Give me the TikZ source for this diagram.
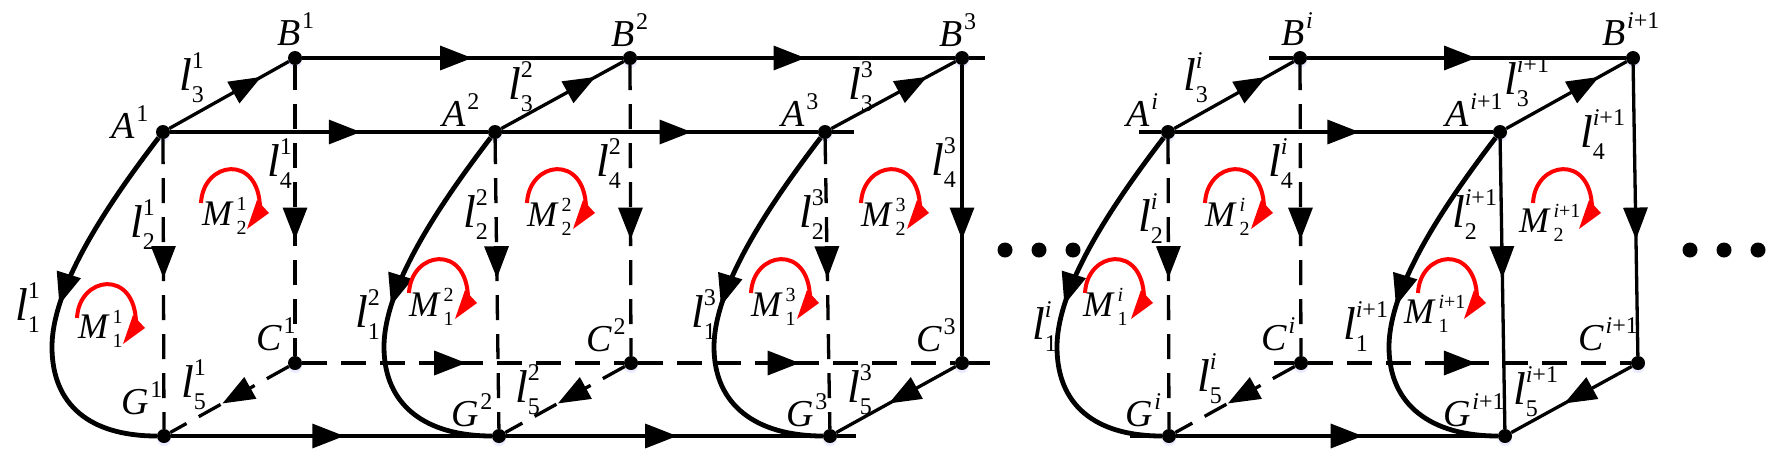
\documentclass[tikz,border=0pt]{standalone}
\usepackage{fontspec}
\setmainfont{Liberation Serif}
\usetikzlibrary{arrows.meta,decorations.markings,shadows}
\newcommand\CapSup[2]{{\fontsize{38}{38}\selectfont\textit{#1}\kern2pt\raisebox{17pt}{\fontsize{24}{24}\selectfont #2}}}
\newcommand\LSS[2]{{\fontsize{46}{46}\selectfont\textit{l}\rlap{\raisebox{22pt}{\fontsize{24}{24}\selectfont #2}}\raisebox{-12pt}{\fontsize{24}{24}\selectfont #1}}}
\newcommand\MSS[2]{{\fontsize{36}{36}\selectfont\textit{M}\kern3pt\rlap{\raisebox{15pt}{\fontsize{20}{20}\selectfont #2}}\raisebox{-9pt}{\fontsize{20}{20}\selectfont #1}}}
\newcommand\redloop[1]{\begin{scope}[shift={(#1)}]
  \draw[redline] (0,0) .. controls (2,-42) and (58,-50) .. (59,5);
  \fill[red] (68,10) -- (46,26) -- (56,-3) -- cycle;
\end{scope}}
\tikzset{
  x=1pt,y=-1pt,
  dotn/.style={circle,fill=black,inner sep=0,minimum size=14pt,
    general shadow={shadow xshift=0pt,shadow yshift=-3pt,fill=blue!25,opacity=.3}},
  edgeln/.style={line width=3.3pt,black},
  dashln/.style={line width=3.3pt,black,dash pattern=on 25pt off 14pt},
  curveedge/.style={line width=4.8pt,black},
  arw/.style={postaction={decorate,decoration={markings,mark=at position #1 with {\arrow{Triangle[length=32pt,width=24pt]}}}}},
  redline/.style={red,line width=4pt},
  txt/.style={anchor=base west,inner sep=0pt,outer sep=0pt},
  ell/.style={circle,fill=black,inner sep=0,minimum size=15pt},
}
\begin{document}
\begin{tikzpicture}
\useasboundingbox (0,0) rectangle (1791,459);
\fill[white] (0,0) rectangle (1791,459);
% points
\foreach \n/\ax/\bx/\cx/\gx in {1/163/295/295/164,2/495/630/631/499,3/825/962/962/830,i/1168/1300/1301/1169,j/1500/1633/1638/1505}{
  \node[dotn] (A\n) at (\ax,132) {};
  \node[dotn] (B\n) at (\bx,58) {};
  \node[dotn] (C\n) at (\cx,363) {};
  \node[dotn] (G\n) at (\gx,436) {};
}
\coordinate (Bend) at (985,58);
\coordinate (Aend) at (854,132);
\coordinate (Cend) at (990,363);
\coordinate (Gend) at (856,436);
\coordinate (Bst) at (1269,58);
\coordinate (Ast) at (1139,132);
\coordinate (Cst) at (1274,363);
\coordinate (Gst) at (1130,436);
% horizontals
\draw[edgeln,arw=.53] (B1) -- (B2);
\draw[edgeln,arw=.53] (B2) -- (B3);
\draw[edgeln] (B3) -- (Bend);
\draw[edgeln,arw=.6] (A1) -- (A2);
\draw[edgeln,arw=.6] (A2) -- (A3);
\draw[edgeln] (A3) -- (Aend);
\draw[dashln,arw=.51] (C1) -- (C2);
\draw[dashln,arw=.51] (C2) -- (C3);
\draw[dashln] (C3) -- (Cend);
\draw[edgeln,arw=.54] (G1) -- (G2);
\draw[edgeln,arw=.54] (G2) -- (G3);
\draw[edgeln] (G3) -- (Gend);
\draw[edgeln] (Bst) -- (Bi);
\draw[edgeln,arw=.53] (Bi) -- (Bj);
\draw[edgeln] (Ast) -- (Ai);
\draw[edgeln,arw=.58] (Ai) -- (Aj);
\draw[dashln] (Cst) -- (Ci);
\draw[dashln,arw=.52] (Ci) -- (Cj);
\draw[edgeln] (Gst) -- (Gi);
\draw[edgeln,arw=.58] (Gi) -- (Gj);
% diagonals and verticals
\foreach \n in {1,2,3,i,j}{
  \draw[edgeln,arw=.77] (A\n) -- (B\n);
  \draw[curveedge,arw=.495] (A\n) .. controls +(-52,68) and +(0,-62) .. ++(-111,215) .. controls +(0,58) and +(-74,0) .. (G\n);
}
\foreach \n in {1,2,3,i}{\draw[dashln,arw=.48] (A\n) -- (G\n);}
\draw[edgeln,arw=.48] (Aj) -- (Gj);
\foreach \n in {1,2,i}{
  \draw[dashln,arw=.6] (B\n) -- (C\n);
  \draw[dashln,arw=.56] (C\n) -- (G\n);
}
\foreach \n in {3,j}{
  \draw[edgeln,arw=.6] (B\n) -- (C\n);
  \draw[edgeln,arw=.56] (C\n) -- (G\n);
}
% ellipses
\foreach \x/\k in {1005/a,1039/b,1073/c,1690/d,1724/e,1758/f}{\node[ell] (e\k) at (\x,250) {};}
% loops
\foreach \p in {{201,203},{77,318},{527,203},{409,293},{861,203},{751,293},{1205,203},{1085,293},{1533,203},{1418,293}}{\redloop{\p}}
% unit 1
\node[txt] (tB1) at (277,45) {\CapSup{B}{1}};
\node[txt] (tA1) at (111,138) {\CapSup{A}{1}};
\node[txt] (tC1) at (256,350) {\CapSup{C}{1}};
\node[txt] (tG1) at (121,414) {\CapSup{G}{1}};
\node[txt] (tl31) at (179,90) {\LSS{3}{1}};
\node[txt] (tl41) at (267,176) {\LSS{4}{1}};
\node[txt] (tl21) at (130,237) {\LSS{2}{1}};
\node[txt] (tl11) at (15,320) {\LSS{1}{1}};
\node[txt] (tl51) at (181,397) {\LSS{5}{1}};
\node[txt] (tM21) at (202,225) {\MSS{2}{1}};
\node[txt] (tM11) at (78,338) {\MSS{1}{1}};
% unit 2
\node[txt] (tB2) at (611,46) {\CapSup{B}{2}};
\node[txt] (tA2) at (442,126) {\CapSup{A}{2}};
\node[txt] (tC2) at (586,351) {\CapSup{C}{2}};
\node[txt] (tG2) at (451,426) {\CapSup{G}{2}};
\node[txt] (tl32) at (508,99) {\LSS{3}{2}};
\node[txt] (tl42) at (596,176) {\LSS{4}{2}};
\node[txt] (tl22) at (463,227) {\LSS{2}{2}};
\node[txt] (tl12) at (355,327) {\LSS{1}{2}};
\node[txt] (tl52) at (515,402) {\LSS{5}{2}};
\node[txt] (tM22) at (527,226) {\MSS{2}{2}};
\node[txt] (tM12) at (409,316) {\MSS{1}{2}};
% unit 3
\node[txt] (tB3) at (939,46) {\CapSup{B}{3}};
\node[txt] (tA3) at (781,126) {\CapSup{A}{3}};
\node[txt] (tC3) at (916,351) {\CapSup{C}{3}};
\node[txt] (tG3) at (786,426) {\CapSup{G}{3}};
\node[txt] (tl33) at (848,99) {\LSS{3}{3}};
\node[txt] (tl43) at (931,175) {\LSS{4}{3}};
\node[txt] (tl23) at (799,227) {\LSS{2}{3}};
\node[txt] (tl13) at (691,327) {\LSS{1}{3}};
\node[txt] (tl53) at (847,402) {\LSS{5}{3}};
\node[txt] (tM23) at (861,226) {\MSS{2}{3}};
\node[txt] (tM13) at (751,316) {\MSS{1}{3}};
% unit i
\node[txt] (tBi) at (1281,45) {\CapSup{B}{\textit{i}}};
\node[txt] (tAi) at (1126,126) {\CapSup{A}{\textit{i}}};
\node[txt] (tCi) at (1261,350) {\CapSup{C}{\textit{i}}};
\node[txt] (tGi) at (1125,426) {\CapSup{G}{\textit{i}}};
\node[txt] (tl3i) at (1183,90) {\LSS{3}{\textit{i}}};
\node[txt] (tl4i) at (1268,176) {\LSS{4}{\textit{i}}};
\node[txt] (tl2i) at (1138,231) {\LSS{2}{\textit{i}}};
\node[txt] (tl1i) at (1032,339) {\LSS{1}{\textit{i}}};
\node[txt] (tl5i) at (1197,391) {\LSS{5}{\textit{i}}};
\node[txt] (tM2i) at (1205,226) {\MSS{2}{\textit{i}}};
\node[txt] (tM1i) at (1083,316) {\MSS{1}{\textit{i}}};
% unit i+1
\node[txt] (tBj) at (1602,45) {\CapSup{B}{\textit{i}+1}};
\node[txt] (tAj) at (1445,126) {\CapSup{A}{\textit{i}+1}};
\node[txt] (tCj) at (1578,350) {\CapSup{C}{\textit{i}+1}};
\node[txt] (tGj) at (1443,426) {\CapSup{G}{\textit{i}+1}};
\node[txt] (tl3j) at (1504,94) {\LSS{3}{\textit{i}+1}};
\node[txt] (tl4j) at (1580,147) {\LSS{4}{\textit{i}+1}};
\node[txt] (tl2j) at (1452,227) {\LSS{2}{\textit{i}+1}};
\node[txt] (tl1j) at (1343,339) {\LSS{1}{\textit{i}+1}};
\node[txt] (tl5j) at (1513,404) {\LSS{5}{\textit{i}+1}};
\node[txt] (tM2j) at (1519,232) {\MSS{2}{\textit{i}+1}};
\node[txt] (tM1j) at (1404,323) {\MSS{1}{\textit{i}+1}};
\end{tikzpicture}
\end{document}
